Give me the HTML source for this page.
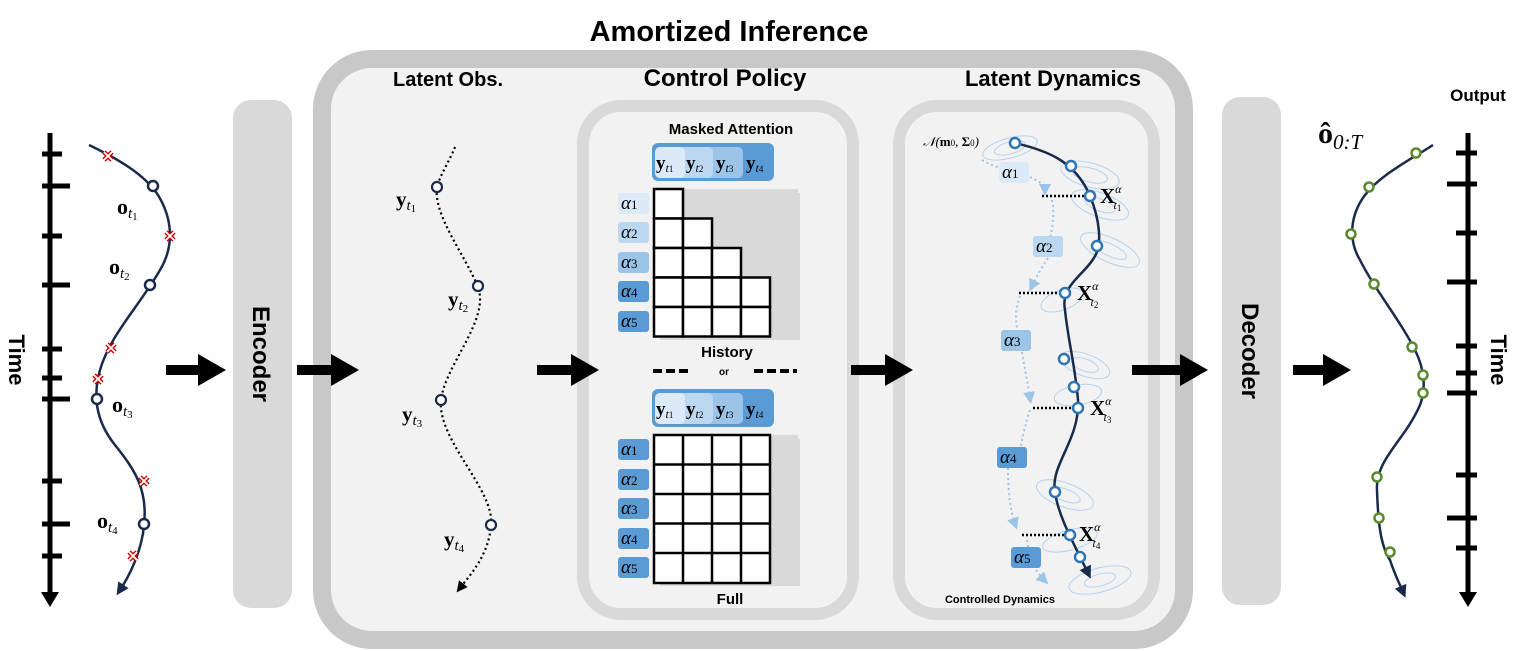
<!DOCTYPE html>
<html><head><meta charset="utf-8"><style>
body{margin:0;background:#fff;}
svg{display:block;font-family:"Liberation Sans",sans-serif;}
.b{font-weight:bold;}
.m{font-family:"Liberation Serif",serif;}
</style></head><body>
<svg width="1522" height="651" viewBox="0 0 1522 651" xmlns="http://www.w3.org/2000/svg">
<defs>
<marker id="ah" viewBox="0 0 10 10" refX="5" refY="5" markerWidth="5" markerHeight="5" orient="auto"><path d="M0,0L10,5L0,10z" fill="#1a2a4a"/></marker>
<marker id="ahk" viewBox="0 0 10 10" refX="5" refY="5" markerWidth="5" markerHeight="5" orient="auto"><path d="M0,0L10,5L0,10z" fill="#000"/></marker>
<marker id="ahl" viewBox="0 0 10 10" refX="5" refY="5" markerWidth="6" markerHeight="6" orient="auto"><path d="M0,0L10,5L0,10z" fill="#9cc3e8"/></marker>
<g id="x"><path d="M-4,-4L4,4M4,-4L-4,4" stroke="#c00" stroke-width="4.5"/><path d="M-4,-4L4,4M4,-4L-4,4" stroke="#fff" stroke-width="1.8"/></g>
</defs>

<!-- Outer amortized box -->
<rect x="322" y="59" width="862" height="581" rx="50" fill="#f2f2f2" stroke="#c8c8c8" stroke-width="18"/>
<text x="729" y="41" text-anchor="middle" class="b" font-size="29">Amortized Inference</text>
<text x="448" y="86" text-anchor="middle" class="b" font-size="20">Latent Obs.</text>
<text x="725" y="86" text-anchor="middle" class="b" font-size="24">Control Policy</text>
<text x="1053" y="86" text-anchor="middle" class="b" font-size="22">Latent Dynamics</text>

<!-- inner boxes -->
<rect x="583" y="106" width="270" height="508" rx="38" fill="#f2f2f2" stroke="#d9d9d9" stroke-width="12"/>
<rect x="899" y="106" width="255" height="508" rx="38" fill="#f2f2f2" stroke="#d9d9d9" stroke-width="12"/>

<!-- Encoder/Decoder -->
<rect x="233" y="100" width="59" height="508" rx="18" fill="#d9d9d9"/>
<text transform="translate(253,354) rotate(90)" text-anchor="middle" class="b" font-size="24">Encoder</text>
<rect x="1222" y="97" width="59" height="508" rx="18" fill="#d9d9d9"/>
<text transform="translate(1242,351) rotate(90)" text-anchor="middle" class="b" font-size="24">Decoder</text>

<!-- big arrows -->
<g fill="#000">
<path d="M166,365h32v-11l28,16l-28,16v-11h-32z"/>
<path d="M297,365h34v-11l28,16l-28,16v-11h-34z"/>
<path d="M537,365h34v-11l28,16l-28,16v-11h-34z"/>
<path d="M851,365h34v-11l28,16l-28,16v-11h-34z"/>
<path d="M1132,365h48v-11l28,16l-28,16v-11h-48z"/>
<path d="M1293,365h30v-11l28,16l-28,16v-11h-30z"/>
</g>

<!-- Left time axis -->
<line x1="50" y1="133" x2="50" y2="595" stroke="#000" stroke-width="5"/>
<path d="M41,592L59,592L50,607z" fill="#000"/>
<g stroke="#000" stroke-width="5">
<line x1="42" y1="154" x2="62" y2="154"/><line x1="42" y1="186" x2="70" y2="186"/>
<line x1="42" y1="236" x2="62" y2="236"/><line x1="42" y1="285" x2="70" y2="285"/>
<line x1="42" y1="349" x2="62" y2="349"/><line x1="42" y1="378" x2="62" y2="378"/>
<line x1="42" y1="399" x2="70" y2="399"/><line x1="42" y1="481" x2="62" y2="481"/>
<line x1="42" y1="524" x2="70" y2="524"/><line x1="42" y1="556" x2="62" y2="556"/>
</g>
<text transform="translate(9,360) rotate(90)" text-anchor="middle" class="b" font-size="22">Time</text>

<!-- Left curve -->
<path d="M89,145 C120,160 145,175 158,195 C172,218 175,245 160,270 C140,305 110,335 100,370 C93,395 95,420 115,445 C135,470 148,490 144,525 C142,550 130,575 120,590" fill="none" stroke="#1a2a4a" stroke-width="2.5" marker-end="url(#ah)"/>
<use href="#x" x="108" y="156"/><use href="#x" x="170" y="236"/><use href="#x" x="111" y="348"/><use href="#x" x="98" y="379"/><use href="#x" x="144" y="481"/><use href="#x" x="133" y="556"/>
<g fill="#fff" stroke="#1a2a4a" stroke-width="2.5">
<circle cx="153" cy="186" r="5"/><circle cx="150" cy="285" r="5"/><circle cx="97" cy="399" r="5"/><circle cx="144" cy="524" r="5"/>
</g>
<g class="m b" font-size="22">
<text x="117" y="214">o<tspan font-size="15" font-weight="normal" font-style="italic" dy="4">t</tspan><tspan font-size="11" font-weight="normal" dy="2">1</tspan></text>
<text x="109" y="274">o<tspan font-size="15" font-weight="normal" font-style="italic" dy="4">t</tspan><tspan font-size="11" font-weight="normal" dy="2">2</tspan></text>
<text x="112" y="412">o<tspan font-size="15" font-weight="normal" font-style="italic" dy="4">t</tspan><tspan font-size="11" font-weight="normal" dy="2">3</tspan></text>
<text x="97" y="528">o<tspan font-size="15" font-weight="normal" font-style="italic" dy="4">t</tspan><tspan font-size="11" font-weight="normal" dy="2">4</tspan></text>
</g>

<!-- Latent obs dotted -->
<path d="M455,147 C450,160 440,175 437,187 C433,215 465,255 478,287 C490,320 445,365 441,400 C437,440 495,490 491,525 C489,555 470,575 460,588" fill="none" stroke="#000" stroke-width="2.2" stroke-dasharray="2,3" marker-end="url(#ahk)"/>
<g fill="#fff" stroke="#1a2a4a" stroke-width="2.2">
<circle cx="437" cy="187" r="5"/><circle cx="478" cy="286" r="5"/><circle cx="441" cy="400" r="5"/><circle cx="491" cy="525" r="5"/>
</g>
<g class="m b" font-size="21">
<text x="396" y="206">y<tspan font-size="15" font-weight="normal" font-style="italic" dy="4">t</tspan><tspan font-size="11" font-weight="normal" dy="2">1</tspan></text>
<text x="448" y="306">y<tspan font-size="15" font-weight="normal" font-style="italic" dy="4">t</tspan><tspan font-size="11" font-weight="normal" dy="2">2</tspan></text>
<text x="402" y="421">y<tspan font-size="15" font-weight="normal" font-style="italic" dy="4">t</tspan><tspan font-size="11" font-weight="normal" dy="2">3</tspan></text>
<text x="444" y="546">y<tspan font-size="15" font-weight="normal" font-style="italic" dy="4">t</tspan><tspan font-size="11" font-weight="normal" dy="2">4</tspan></text>
</g>

<!-- Control policy -->
<text x="731" y="134" text-anchor="middle" class="b" font-size="15">Masked Attention</text>
<g id="hdr">
<rect x="652" y="143" width="122" height="38" rx="6" fill="#5b9bd5"/>
<rect x="655" y="147" width="88" height="31" rx="5" fill="#9cc3e8"/>
<rect x="655" y="147" width="58" height="31" rx="5" fill="#bcd7f0"/>
<rect x="655" y="147" width="30" height="31" rx="5" fill="#dceaf7"/>
<g class="m b" font-size="19"><text x="656" y="169">y<tspan font-size="12" font-weight="normal" font-style="italic" dy="3">t</tspan><tspan font-size="9" font-weight="normal">1</tspan></text>
<text x="686" y="169">y<tspan font-size="12" font-weight="normal" font-style="italic" dy="3">t</tspan><tspan font-size="9" font-weight="normal">2</tspan></text>
<text x="716" y="169">y<tspan font-size="12" font-weight="normal" font-style="italic" dy="3">t</tspan><tspan font-size="9" font-weight="normal">3</tspan></text>
<text x="746" y="169">y<tspan font-size="12" font-weight="normal" font-style="italic" dy="3">t</tspan><tspan font-size="9" font-weight="normal">4</tspan></text></g>
</g>
<rect x="660" y="193" width="140" height="147" fill="#c8c8c8" opacity="0.6"/>
<rect x="653" y="189" width="145" height="148" fill="#d9d9d9"/>
<g fill="#fff" stroke="#000" stroke-width="2.5">
<rect x="654" y="189" width="29" height="29.5"/>
<rect x="654" y="218.5" width="29" height="29.5"/><rect x="683" y="218.5" width="29" height="29.5"/>
<rect x="654" y="248" width="29" height="29.5"/><rect x="683" y="248" width="29" height="29.5"/><rect x="712" y="248" width="29" height="29.5"/>
<rect x="654" y="277.5" width="29" height="29.5"/><rect x="683" y="277.5" width="29" height="29.5"/><rect x="712" y="277.5" width="29" height="29.5"/><rect x="741" y="277.5" width="29" height="29.5"/>
<rect x="654" y="307" width="29" height="29.5"/><rect x="683" y="307" width="29" height="29.5"/><rect x="712" y="307" width="29" height="29.5"/><rect x="741" y="307" width="29" height="29.5"/>
</g>
<g>
<rect x="618" y="193" width="31" height="21" rx="3" fill="#dceaf7"/>
<rect x="618" y="222" width="31" height="21" rx="3" fill="#bcd7f0"/>
<rect x="618" y="252" width="31" height="21" rx="3" fill="#9cc3e8"/>
<rect x="618" y="281" width="31" height="21" rx="3" fill="#5b9bd5"/>
<rect x="618" y="311" width="31" height="21" rx="3" fill="#5b9bd5"/>
</g>
<g class="m" font-size="19" font-style="italic">
<text x="621" y="209">α<tspan font-style="normal" font-size="13">1</tspan></text>
<text x="621" y="238">α<tspan font-style="normal" font-size="13">2</tspan></text>
<text x="621" y="268">α<tspan font-style="normal" font-size="13">3</tspan></text>
<text x="621" y="297">α<tspan font-style="normal" font-size="13">4</tspan></text>
<text x="621" y="327">α<tspan font-style="normal" font-size="13">5</tspan></text>
</g>
<text x="727" y="357" text-anchor="middle" class="b" font-size="15">History</text>
<g stroke="#000" stroke-width="4"><line x1="653" y1="371" x2="690" y2="371" stroke-dasharray="9,4"/><line x1="754" y1="371" x2="797" y2="371" stroke-dasharray="9,4"/></g>
<text x="724" y="375" text-anchor="middle" class="b" font-size="10">or</text>
<use href="#hdr" y="246"/>
<rect x="660" y="439" width="140" height="147" fill="#c8c8c8" opacity="0.6"/>
<rect x="653" y="435" width="145" height="148" fill="#d9d9d9"/>
<g fill="#fff" stroke="#000" stroke-width="2.5">
<rect x="654" y="435" width="116" height="148"/>
</g>
<g stroke="#000" stroke-width="2.5">
<line x1="683" y1="435" x2="683" y2="583"/><line x1="712" y1="435" x2="712" y2="583"/><line x1="741" y1="435" x2="741" y2="583"/>
<line x1="654" y1="464.5" x2="770" y2="464.5"/><line x1="654" y1="494" x2="770" y2="494"/><line x1="654" y1="523.5" x2="770" y2="523.5"/><line x1="654" y1="553" x2="770" y2="553"/>
</g>
<g fill="#5b9bd5">
<rect x="618" y="439" width="31" height="21" rx="3"/><rect x="618" y="469" width="31" height="21" rx="3"/><rect x="618" y="498" width="31" height="21" rx="3"/><rect x="618" y="528" width="31" height="21" rx="3"/><rect x="618" y="557" width="31" height="21" rx="3"/>
</g>
<g class="m" font-size="19" font-style="italic">
<text x="621" y="455">α<tspan font-style="normal" font-size="13">1</tspan></text>
<text x="621" y="485">α<tspan font-style="normal" font-size="13">2</tspan></text>
<text x="621" y="514">α<tspan font-style="normal" font-size="13">3</tspan></text>
<text x="621" y="544">α<tspan font-style="normal" font-size="13">4</tspan></text>
<text x="621" y="573">α<tspan font-style="normal" font-size="13">5</tspan></text>
</g>
<text x="730" y="604" text-anchor="middle" class="b" font-size="15">Full</text>

<!-- Latent dynamics -->
<g fill="none" stroke="#a9cbec" stroke-width="1" opacity="0.8">
<ellipse cx="1010" cy="148" rx="28" ry="10" transform="rotate(-15 1010 148)"/><ellipse cx="1010" cy="148" rx="16" ry="6" transform="rotate(-15 1010 148)"/>
<ellipse cx="1090" cy="175" rx="30" ry="12" transform="rotate(15 1090 175)"/><ellipse cx="1090" cy="175" rx="18" ry="7" transform="rotate(15 1090 175)"/>
<ellipse cx="1100" cy="205" rx="30" ry="12" transform="rotate(20 1100 205)"/><ellipse cx="1100" cy="205" rx="16" ry="6" transform="rotate(20 1100 205)"/>
<ellipse cx="1110" cy="250" rx="32" ry="12" transform="rotate(25 1110 250)"/><ellipse cx="1110" cy="250" rx="18" ry="6" transform="rotate(25 1110 250)"/>
<ellipse cx="1062" cy="300" rx="22" ry="10" transform="rotate(-20 1062 300)"/>
<ellipse cx="1085" cy="365" rx="26" ry="11" transform="rotate(20 1085 365)"/><ellipse cx="1085" cy="365" rx="14" ry="6" transform="rotate(20 1085 365)"/>
<ellipse cx="1078" cy="395" rx="24" ry="10" transform="rotate(-10 1078 395)"/>
<ellipse cx="1065" cy="495" rx="30" ry="12" transform="rotate(20 1065 495)"/><ellipse cx="1065" cy="495" rx="16" ry="6" transform="rotate(20 1065 495)"/>
<ellipse cx="1070" cy="540" rx="28" ry="10" transform="rotate(-15 1070 540)"/>
<ellipse cx="1100" cy="580" rx="32" ry="12" transform="rotate(-15 1100 580)"/><ellipse cx="1100" cy="580" rx="16" ry="6" transform="rotate(-15 1100 580)"/>
</g>
<text x="923" y="146" class="m" font-size="13" font-style="italic">𝒩(<tspan font-weight="bold" font-style="normal">m</tspan><tspan font-size="9" font-style="normal">0</tspan>, <tspan font-weight="bold" font-style="normal">Σ</tspan><tspan font-size="9" font-style="normal">0</tspan>)</text>
<path d="M1015,143 C1045,150 1075,160 1090,196 C1100,220 1102,245 1095,256 C1085,275 1060,285 1065,310 C1068,340 1075,365 1078,400 C1080,440 1050,465 1055,492 C1058,515 1072,540 1088,573" fill="none" stroke="#1a2a4a" stroke-width="2.5" marker-end="url(#ah)"/>
<g stroke="#000" stroke-width="2.5" stroke-dasharray="2,2">
<line x1="1042" y1="196" x2="1088" y2="196"/><line x1="1019" y1="293" x2="1063" y2="293"/><line x1="1033" y1="408" x2="1077" y2="408"/><line x1="1022" y1="535" x2="1068" y2="535"/>
</g>
<g fill="none" stroke="#9cc3e8" stroke-width="2" stroke-dasharray="2,3">
<path d="M982,160 C990,165 1000,168 1004,168" /><path d="M1030,177 C1040,182 1045,185 1045,190" marker-end="url(#ahl)"/>
<path d="M1052,200 C1055,215 1052,228 1050,240"/><path d="M1048,258 C1040,270 1035,280 1032,286" marker-end="url(#ahl)"/>
<path d="M1020,296 C1015,310 1015,320 1018,332"/><path d="M1022,352 C1025,370 1028,385 1030,398" marker-end="url(#ahl)"/>
<path d="M1030,410 C1025,425 1022,440 1020,450"/><path d="M1008,468 C1008,490 1010,510 1015,524" marker-end="url(#ahl)"/>
<path d="M1027,540 C1028,545 1028,548 1028,550"/><path d="M1036,570 C1040,575 1042,578 1044,580" marker-end="url(#ahl)"/>
</g>
<rect x="999" y="162" width="30" height="21" rx="3" fill="#dceaf7"/>
<rect x="1033" y="236" width="30" height="21" rx="3" fill="#bcd7f0"/>
<rect x="1001" y="330" width="30" height="21" rx="3" fill="#9cc3e8"/>
<rect x="997" y="447" width="30" height="21" rx="3" fill="#5b9bd5"/>
<rect x="1011" y="547" width="30" height="21" rx="3" fill="#5b9bd5"/>
<g class="m" font-size="19" font-style="italic">
<text x="1002" y="178">α<tspan font-style="normal" font-size="13">1</tspan></text>
<text x="1036" y="252">α<tspan font-style="normal" font-size="13">2</tspan></text>
<text x="1004" y="346">α<tspan font-style="normal" font-size="13">3</tspan></text>
<text x="1000" y="463">α<tspan font-style="normal" font-size="13">4</tspan></text>
<text x="1014" y="563">α<tspan font-style="normal" font-size="13">5</tspan></text>
</g>
<g fill="#fff" stroke="#2e75b6" stroke-width="2.5">
<circle cx="1015" cy="143" r="5"/><circle cx="1071" cy="166" r="5"/><circle cx="1090" cy="196" r="5"/><circle cx="1097" cy="246" r="5"/><circle cx="1065" cy="293" r="5"/><circle cx="1064" cy="359" r="5"/><circle cx="1074" cy="387" r="5"/><circle cx="1078" cy="408" r="5"/><circle cx="1055" cy="492" r="5"/><circle cx="1070" cy="535" r="5"/><circle cx="1080" cy="557" r="5"/>
</g>
<g class="m b" font-size="21">
<text x="1100" y="203">X<tspan font-size="12" font-weight="normal" font-style="italic" dy="-10">α</tspan><tspan font-size="12" font-weight="normal" font-style="italic" dx="-8" dy="16">t</tspan><tspan font-size="9" font-weight="normal" dy="2">1</tspan></text>
<text x="1077" y="300">X<tspan font-size="12" font-weight="normal" font-style="italic" dy="-10">α</tspan><tspan font-size="12" font-weight="normal" font-style="italic" dx="-8" dy="16">t</tspan><tspan font-size="9" font-weight="normal" dy="2">2</tspan></text>
<text x="1090" y="415">X<tspan font-size="12" font-weight="normal" font-style="italic" dy="-10">α</tspan><tspan font-size="12" font-weight="normal" font-style="italic" dx="-8" dy="16">t</tspan><tspan font-size="9" font-weight="normal" dy="2">3</tspan></text>
<text x="1079" y="541">X<tspan font-size="12" font-weight="normal" font-style="italic" dy="-10">α</tspan><tspan font-size="12" font-weight="normal" font-style="italic" dx="-8" dy="16">t</tspan><tspan font-size="9" font-weight="normal" dy="2">4</tspan></text>
</g>
<text x="1000" y="603" text-anchor="middle" class="b" font-size="11">Controlled Dynamics</text>

<!-- Output -->
<text x="1478" y="101" text-anchor="middle" class="b" font-size="17">Output</text>
<text x="1318" y="143" class="m" font-size="30"><tspan font-weight="bold">ô</tspan><tspan font-size="21" font-style="italic" dy="6">0:T</tspan></text>
<line x1="1468" y1="133" x2="1468" y2="595" stroke="#000" stroke-width="5"/>
<path d="M1459,592L1477,592L1468,607z" fill="#000"/>
<g stroke="#000" stroke-width="5">
<line x1="1456" y1="153" x2="1477" y2="153"/><line x1="1447" y1="184" x2="1477" y2="184"/>
<line x1="1456" y1="233" x2="1477" y2="233"/><line x1="1447" y1="282" x2="1477" y2="282"/>
<line x1="1456" y1="346" x2="1477" y2="346"/><line x1="1456" y1="373" x2="1477" y2="373"/>
<line x1="1447" y1="393" x2="1477" y2="393"/><line x1="1456" y1="475" x2="1477" y2="475"/>
<line x1="1447" y1="518" x2="1477" y2="518"/><line x1="1456" y1="548" x2="1477" y2="548"/>
</g>
<text transform="translate(1491,360) rotate(90)" text-anchor="middle" class="b" font-size="22">Time</text>
<path d="M1433,145 C1410,160 1380,175 1365,195 C1350,215 1348,240 1360,260 C1375,290 1400,320 1415,350 C1425,370 1426,390 1420,405 C1405,440 1375,460 1377,490 C1378,520 1380,545 1390,560 C1395,575 1400,585 1403,592" fill="none" stroke="#1a2a4a" stroke-width="2.5" marker-end="url(#ah)"/>
<g fill="#fff" stroke="#5a8a2e" stroke-width="2.5">
<circle cx="1416" cy="153" r="4.5"/><circle cx="1369" cy="187" r="4.5"/><circle cx="1351" cy="234" r="4.5"/><circle cx="1374" cy="284" r="4.5"/><circle cx="1412" cy="347" r="4.5"/><circle cx="1423" cy="375" r="4.5"/><circle cx="1423" cy="393" r="4.5"/><circle cx="1377" cy="477" r="4.5"/><circle cx="1379" cy="518" r="4.5"/><circle cx="1390" cy="552" r="4.5"/>
</g>
</svg>
</body></html>
